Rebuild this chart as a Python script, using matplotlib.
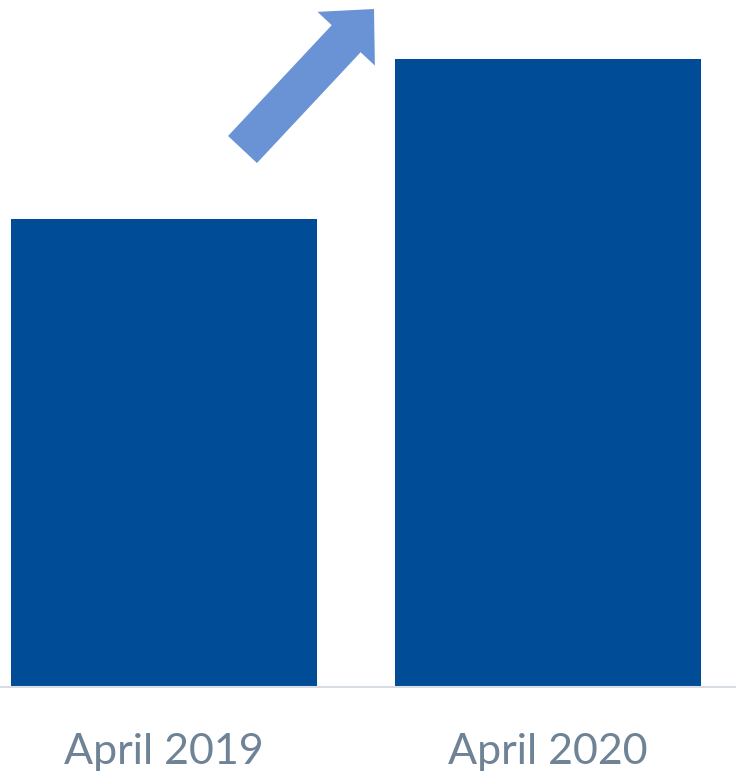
import matplotlib
matplotlib.use("Agg")
import matplotlib.pyplot as plt
from matplotlib.patches import FancyArrow
from matplotlib.transforms import IdentityTransform

categories = ["April 2019", "April 2020"]
values = [468, 628]

W, H, DPI = 736, 772, 100
fig = plt.figure(figsize=(W / DPI, H / DPI), dpi=DPI)
ax = fig.add_axes([0, 1 - 687 / H, 1, 687 / H])

x = list(range(len(categories)))
ax.bar(x, values, width=0.797, color="#004C97", zorder=2)
ax.set_xlim(-0.427, 1.490)
ax.set_ylim(0, 687)

for s in ["top", "left", "right"]:
    ax.spines[s].set_visible(False)
ax.spines["bottom"].set_color("#D9DEE4")
ax.spines["bottom"].set_linewidth(1.5)
ax.set_yticks([])
ax.set_xticks(x)
ax.set_xticklabels(categories, fontsize=31, color="#6F8397", family="Lato")
ax.tick_params(axis="x", length=0, pad=33)

# Up-trend arrow (in display pixels)
tail = (242.5, H - 149.5)
tip = (374.0, H - 9.0)
arrow = FancyArrow(tail[0], tail[1], tip[0] - tail[0], tip[1] - tail[1],
                   width=39.6, head_width=78.6, head_length=40.7,
                   length_includes_head=True, color="#6A93D5", lw=0,
                   transform=IdentityTransform())
fig.add_artist(arrow)

fig.savefig("out.png", dpi=DPI)
